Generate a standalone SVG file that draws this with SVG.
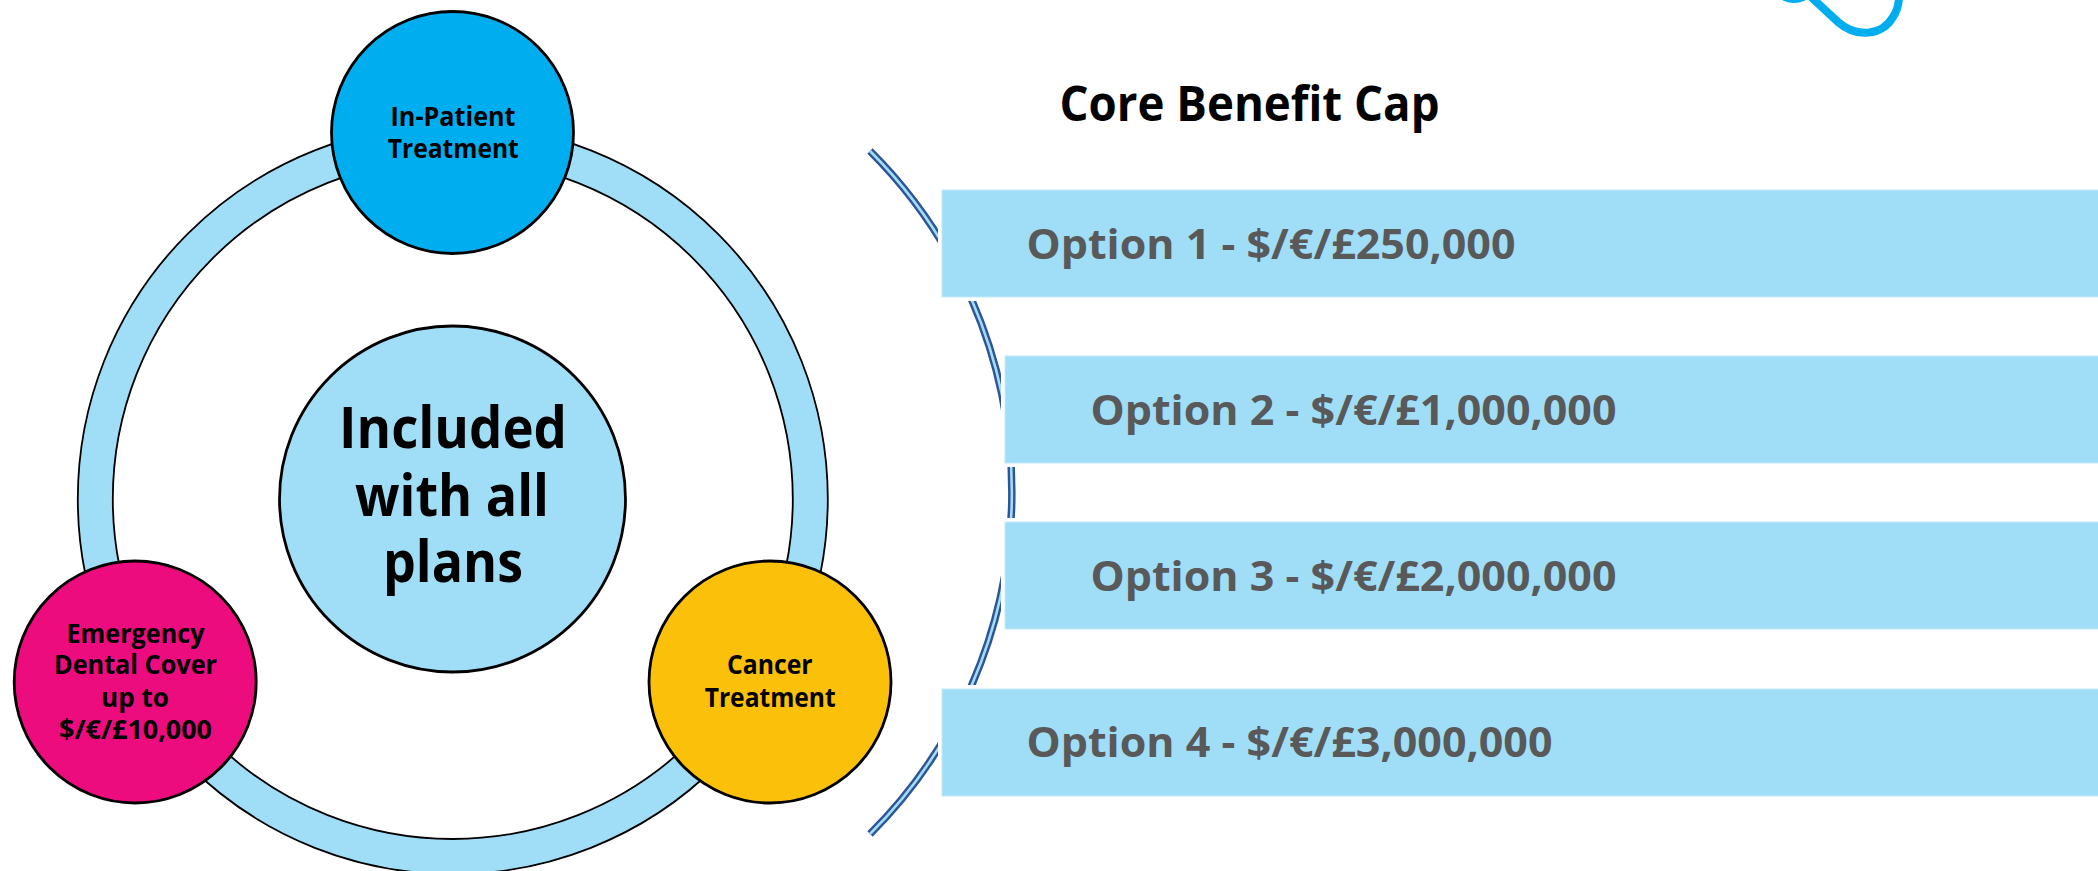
<svg xmlns="http://www.w3.org/2000/svg" width="2098" height="871" viewBox="0 0 2098 871">
<style>
text{font-family:"Open Sans","Noto Sans","Liberation Sans",sans-serif;font-weight:700}
.n{font-size:26.5px;fill:#000}
.c{stroke:#000;stroke-width:2.8}
.o{font-size:41.5px;fill:#595959}
.b{fill:#A0DEF7;stroke:#C4EAFA;stroke-width:1}
.h{fill:#fff}
</style>
<rect width="2098" height="871" fill="#fff"/>
<g id="connectors">
<path id="ring" fill-rule="evenodd" fill="#A0DEF7" stroke="#000" stroke-width="1.8" d="M77.8 499a375 375 0 1 0 750 0a375 375 0 1 0-750 0zM112.8 499a340 340 0 1 1 680 0a340 340 0 1 1-680 0z"/>
<g fill="none">
<path d="M870 151A482 482 0 0 1 870 834" stroke="#2F5597" stroke-width="7.5"/>
<path d="M870 151A482 482 0 0 1 870 834" stroke="#A0DEF7" stroke-width="2.6"/>
</g>
</g>
<g id="logo" fill="none" stroke="#00AEEF" stroke-width="8" stroke-linecap="round">
<path d="M1785 -3Q1794 1 1803 -3"/>
<path d="M1810 -4L1838 22C1856 38 1882 36 1893 17Q1899 8 1899 -4"/>
</g>
<g id="center"><circle class="c" cx="452.5" cy="499" r="173" fill="#A0DEF7"/>
<text font-size="57" x="339" y="448" textLength="228" lengthAdjust="spacingAndGlyphs">Included</text>
<text font-size="57" x="355" y="515.5" textLength="194" lengthAdjust="spacingAndGlyphs">with all</text>
<text font-size="57" x="383" y="582" textLength="140" lengthAdjust="spacingAndGlyphs">plans</text></g>
<g id="inpatient"><circle class="c" cx="452.5" cy="132.5" r="121" fill="#00AEEF"/>
<text class="n" x="390.5" y="125.5" textLength="125" lengthAdjust="spacingAndGlyphs">In-Patient</text>
<text class="n" x="387.8" y="158.3" textLength="131" lengthAdjust="spacingAndGlyphs">Treatment</text></g>
<g id="dental"><circle class="c" cx="135.2" cy="682" r="121" fill="#ED0C7E"/>
<text class="n" x="66.5" y="642.8" textLength="138" lengthAdjust="spacingAndGlyphs">Emergency</text>
<text class="n" x="54" y="674.4" textLength="163" lengthAdjust="spacingAndGlyphs">Dental Cover</text>
<text class="n" x="101" y="706.7" textLength="68" lengthAdjust="spacingAndGlyphs">up to</text>
<text class="n" x="59" y="739" textLength="153" lengthAdjust="spacingAndGlyphs">$/€/£10,000</text></g>
<g id="cancer"><circle class="c" cx="770" cy="682" r="121" fill="#FBC00A"/>
<text class="n" x="727" y="674.4" textLength="85.5" lengthAdjust="spacingAndGlyphs">Cancer</text>
<text class="n" x="704.7" y="707.2" textLength="131" lengthAdjust="spacingAndGlyphs">Treatment</text></g>
<text id="title" font-size="48" fill="#000" x="1059.5" y="121" textLength="380" lengthAdjust="spacingAndGlyphs">Core Benefit Cap</text>
<g id="option1"><rect class="h" x="938" y="186" width="1160" height="115"/><rect class="b" x="942" y="190" width="1160" height="107"/>
<text class="o" x="1026.5" y="259" textLength="489" lengthAdjust="spacingAndGlyphs">Option 1 - $/€/£250,000</text></g>
<g id="option2"><rect class="h" x="1001" y="352" width="1100" height="115"/><rect class="b" x="1005" y="356" width="1100" height="107"/>
<text class="o" x="1090.5" y="425" textLength="526" lengthAdjust="spacingAndGlyphs">Option 2 - $/€/£1,000,000</text></g>
<g id="option3"><rect class="h" x="1001" y="518" width="1100" height="115"/><rect class="b" x="1005" y="522" width="1100" height="107"/>
<text class="o" x="1090.5" y="591" textLength="526" lengthAdjust="spacingAndGlyphs">Option 3 - $/€/£2,000,000</text></g>
<g id="option4"><rect class="h" x="938" y="685" width="1160" height="115"/><rect class="b" x="942" y="689" width="1160" height="107"/>
<text class="o" x="1026.5" y="757" textLength="526" lengthAdjust="spacingAndGlyphs">Option 4 - $/€/£3,000,000</text></g>
</svg>
